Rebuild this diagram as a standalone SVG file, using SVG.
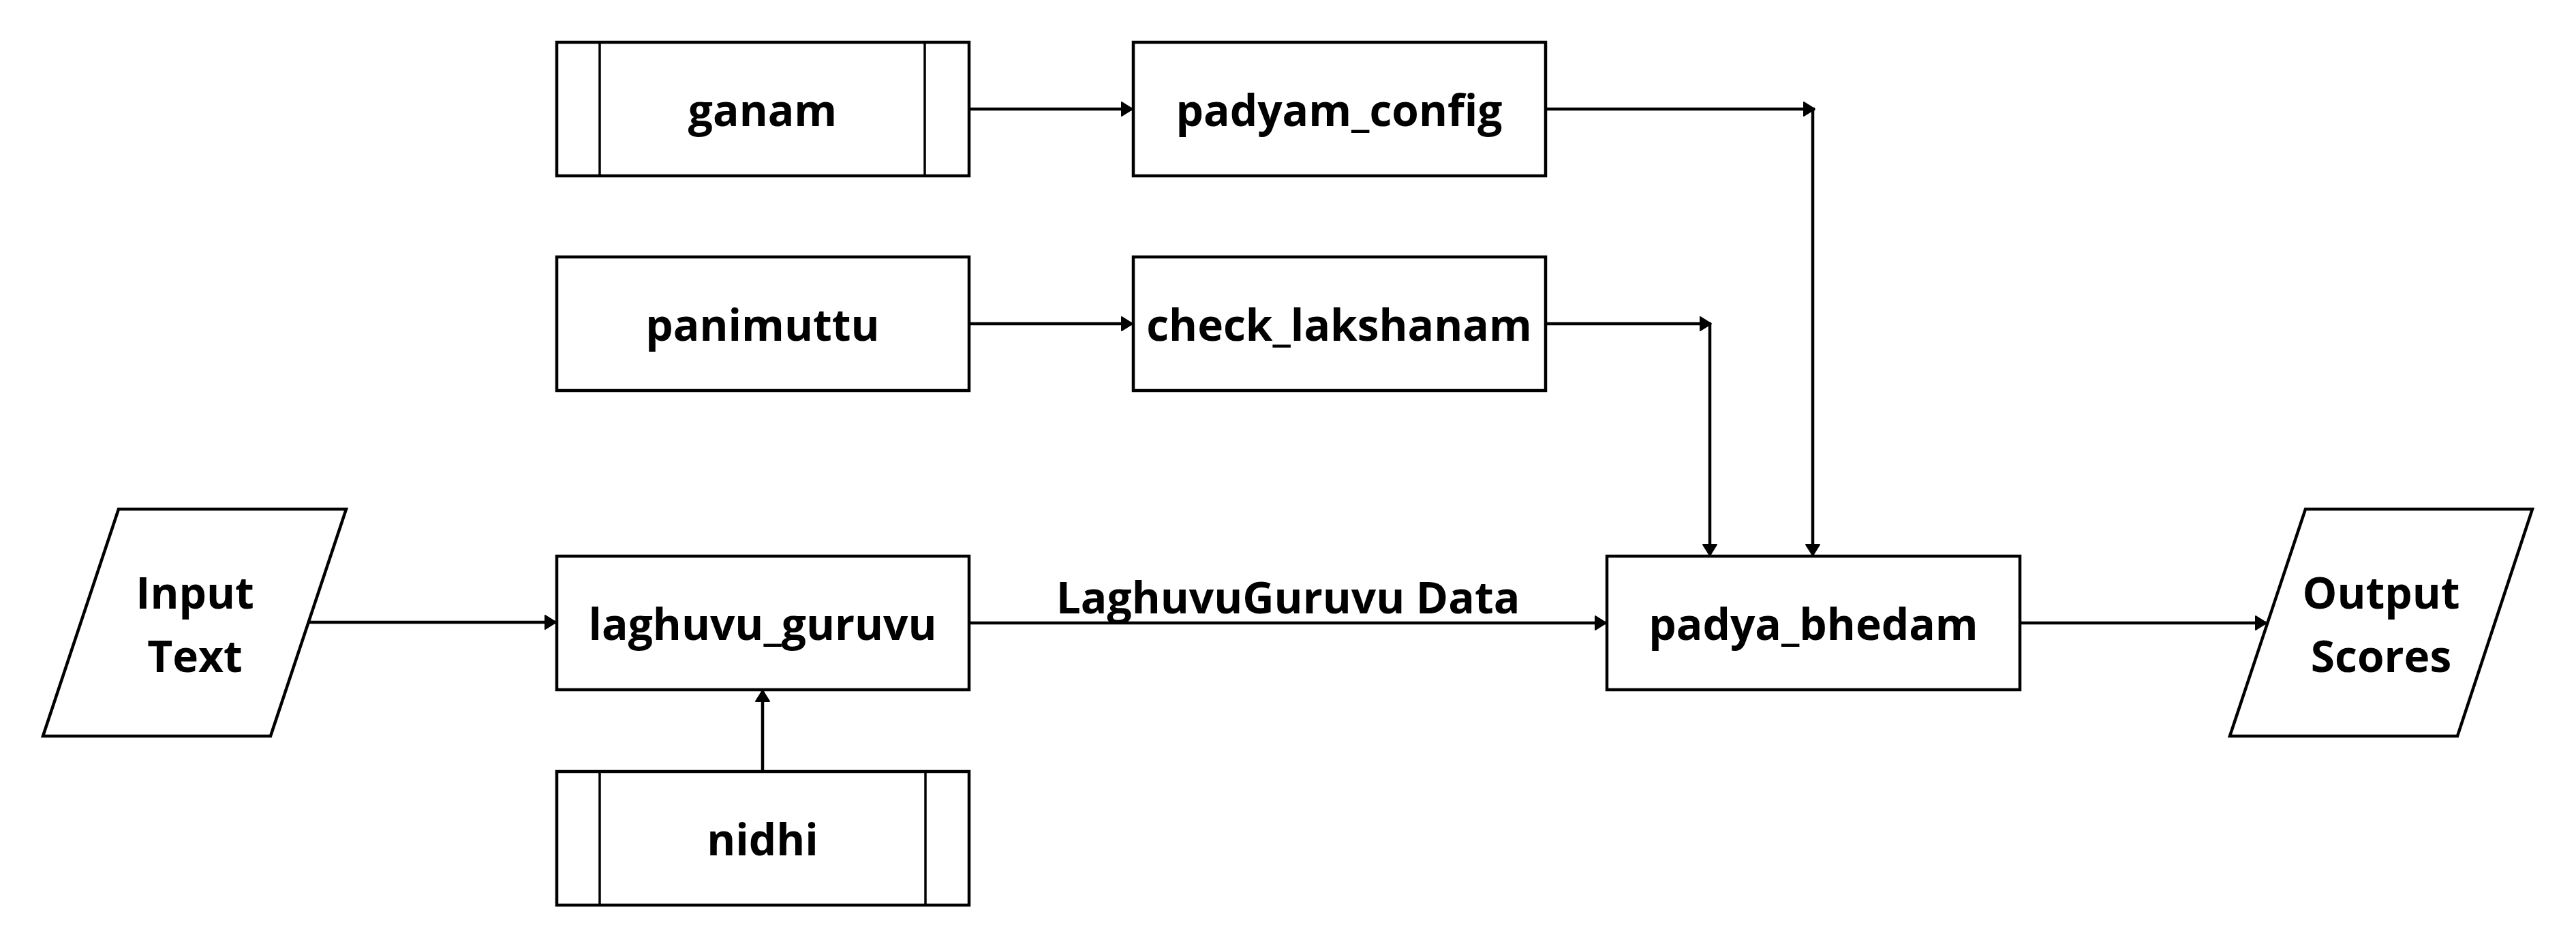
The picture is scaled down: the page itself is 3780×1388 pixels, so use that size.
<svg xmlns="http://www.w3.org/2000/svg" width="3780" height="1388" viewBox="0 0 3780 1388">
<style>
.shape{fill:#fff;stroke:#000;stroke-width:4.5}
.inner{stroke:#000;stroke-width:3.5}
.lbl{font-family:"Open Sans","Noto Sans",sans-serif;font-weight:700;font-size:64px;fill:#000;text-anchor:middle}
.conn{fill:none;stroke:#000;stroke-width:4.5}
</style>
<defs>
<marker id="ah" markerUnits="userSpaceOnUse" markerWidth="22" markerHeight="24" refX="17" refY="11" orient="auto">
<path d="M1,1 L17,11 L1,21 z" fill="#000" stroke="#000" stroke-width="2" stroke-linejoin="round"/>
</marker>
</defs>
<rect width="3780" height="1388" fill="#fff"/>
<g id="connectors">
<path class="conn" d="M1422,160 H1662" marker-end="url(#ah)"/>
<path class="conn" d="M2268,160 H2663" marker-end="url(#ah)"/>
<path class="conn" d="M2660,160 V815" marker-end="url(#ah)"/>
<path class="conn" d="M1422,475 H1662" marker-end="url(#ah)"/>
<path class="conn" d="M2268,475 H2511" marker-end="url(#ah)"/>
<path class="conn" d="M2509,475 V815" marker-end="url(#ah)"/>
<path class="conn" d="M453,913 H816" marker-end="url(#ah)"/>
<path class="conn" d="M1119,1131 V1013" marker-end="url(#ah)"/>
<path class="conn" d="M1422,914 H2357" marker-end="url(#ah)"/>
<text class="lbl" x="1890" y="900">LaghuvuGuruvu Data</text>
<path class="conn" d="M2965,914 H3326" marker-end="url(#ah)"/>
</g>
<g id="input_text">
<polygon class="shape" points="174,747 508,747 397,1080 63,1080"/>
<text class="lbl" x="286" y="893">Input</text>
<text class="lbl" x="286" y="986">Text</text>
</g>
<g id="ganam">
<rect class="shape" x="817" y="62" width="605" height="196"/>
<line class="inner" x1="880" y1="62" x2="880" y2="258"/>
<line class="inner" x1="1357" y1="62" x2="1357" y2="258"/>
<text class="lbl" x="1119" y="185">ganam</text>
</g>
<g id="padyam_config">
<rect class="shape" x="1663" y="62" width="605" height="196"/>
<text class="lbl" x="1965" y="185">padyam_config</text>
</g>
<g id="panimuttu">
<rect class="shape" x="817" y="377" width="605" height="196"/>
<text class="lbl" x="1119" y="500">panimuttu</text>
</g>
<g id="check_lakshanam">
<rect class="shape" x="1663" y="377" width="605" height="196"/>
<text class="lbl" x="1965" y="500">check_lakshanam</text>
</g>
<g id="laghuvu_guruvu">
<rect class="shape" x="817" y="816" width="605" height="196"/>
<text class="lbl" x="1119" y="939">laghuvu_guruvu</text>
</g>
<g id="nidhi">
<rect class="shape" x="817" y="1132" width="605" height="196"/>
<line class="inner" x1="880" y1="1132" x2="880" y2="1328"/>
<line class="inner" x1="1358" y1="1132" x2="1358" y2="1328"/>
<text class="lbl" x="1119" y="1255">nidhi</text>
</g>
<g id="padya_bhedam">
<rect class="shape" x="2358" y="816" width="606" height="196"/>
<text class="lbl" x="2661" y="939">padya_bhedam</text>
</g>
<g id="output_scores">
<polygon class="shape" points="3383,747 3716,747 3606,1080 3272,1080"/>
<text class="lbl" x="3494" y="893">Output</text>
<text class="lbl" x="3494" y="986">Scores</text>
</g>
</svg>
